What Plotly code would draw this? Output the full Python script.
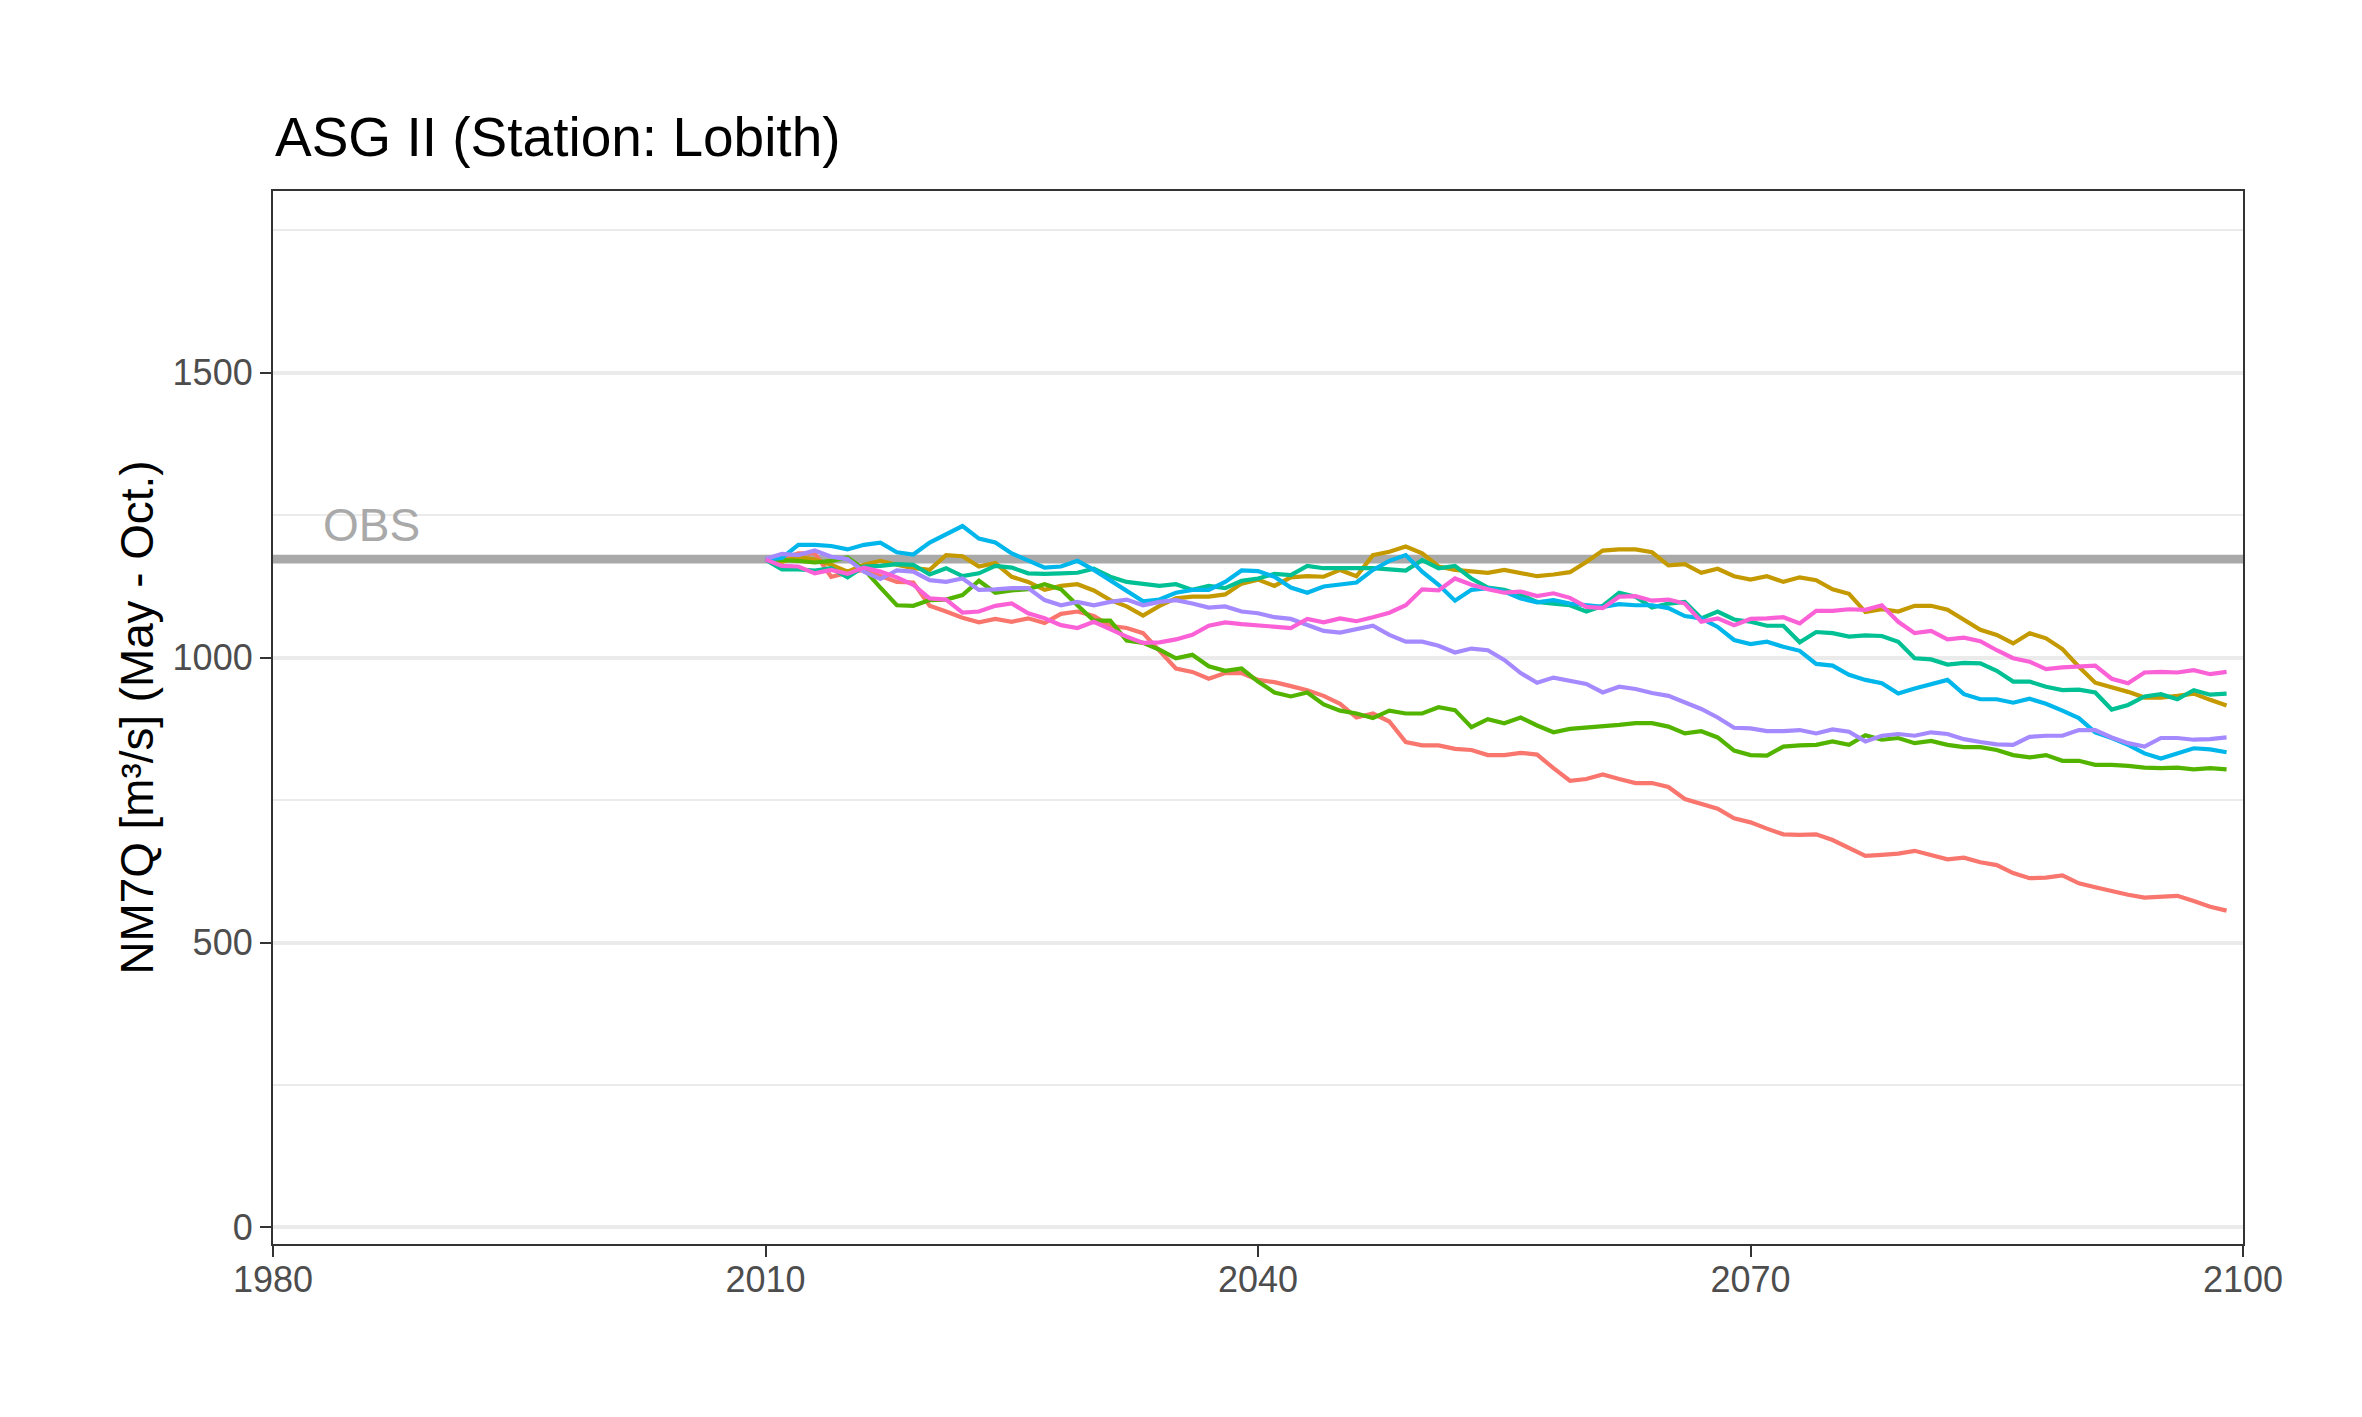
import plotly.graph_objects as go

# ---------------- data ----------------
years = list(range(2010, 2100))

obs_value = 1173

red = [1172, 1173, 1183, 1183, 1142, 1149, 1154, 1143, 1133, 1132,
       1091, 1081, 1070, 1062, 1068, 1063, 1069, 1061, 1077, 1081,
       1073, 1056, 1052, 1043, 1011, 981, 975, 963, 973, 973,
       961, 957, 950, 943, 933, 919, 895, 902, 888, 852,
       846, 846, 840, 838, 829, 829, 833, 830, 806, 784,
       787, 795, 787, 780, 780, 773, 752, 743, 735, 718,
       711, 700, 690, 689, 690, 680, 666, 652, 654, 656,
       661, 654, 646, 649, 641, 636, 622, 613, 614, 618,
       604, 597, 590, 584, 579, 581, 582, 573, 563, 556]

gold = [1172, 1168, 1177, 1172, 1163, 1151, 1163, 1170, 1163, 1157,
        1154, 1180, 1178, 1160, 1166, 1142, 1133, 1119, 1126, 1129,
        1118, 1101, 1090, 1074, 1091, 1104, 1107, 1107, 1111, 1130,
        1137, 1126, 1141, 1143, 1142, 1154, 1143, 1180, 1186, 1195,
        1183, 1160, 1154, 1151, 1149, 1154, 1149, 1143, 1146, 1150,
        1168, 1188, 1190, 1190, 1185, 1162, 1164, 1149, 1156, 1143,
        1137, 1143, 1133, 1141, 1136, 1120, 1112, 1080, 1085, 1081,
        1091, 1091, 1084, 1067, 1049, 1040, 1025, 1043, 1034, 1015,
        984, 956, 948, 940, 930, 930, 933, 937, 926, 916]

green = [1173, 1172, 1170, 1167, 1170, 1176, 1155, 1123, 1092, 1091,
         1101, 1102, 1110, 1135, 1114, 1118, 1120, 1129, 1120, 1092,
         1065, 1065, 1030, 1026, 1014, 999, 1005, 985, 977, 981,
         958, 939, 932, 939, 918, 907, 902, 894, 907, 902,
         902, 913, 908, 878, 892, 885, 895, 881, 869, 875,
         877, 880, 882, 885, 885, 879, 867, 871, 860, 837,
         829, 828, 844, 846, 847, 853, 847, 864, 856, 859,
         850, 854, 847, 843, 843, 838, 829, 825, 829, 819,
         819, 812, 812, 810, 807, 806, 807, 804, 806, 804]

teal = [1172, 1155, 1155, 1153, 1157, 1141, 1160, 1161, 1164, 1163,
        1146, 1157, 1143, 1148, 1161, 1158, 1148, 1147, 1148, 1149,
        1156, 1142, 1133, 1129, 1126, 1129, 1119, 1126, 1122, 1135,
        1139, 1147, 1145, 1161, 1157, 1157, 1157, 1157, 1155, 1153,
        1171, 1157, 1161, 1139, 1123, 1119, 1110, 1098, 1095, 1092,
        1081, 1091, 1114, 1107, 1088, 1095, 1098, 1069, 1081, 1067,
        1063, 1056, 1056, 1027, 1045, 1043, 1037, 1039, 1038, 1028,
        999, 997, 988, 991, 990, 977, 958, 958, 949, 943,
        944, 939, 909, 917, 932, 936, 927, 943, 935, 937]

cyan = [1172, 1175, 1198, 1198, 1196, 1190, 1198, 1202, 1185, 1181,
        1202, 1217, 1231, 1209, 1202, 1183, 1170, 1158, 1160, 1170,
        1154, 1136, 1116, 1099, 1102, 1114, 1119, 1119, 1133, 1153,
        1152, 1142, 1123, 1114, 1125, 1128, 1132, 1154, 1170, 1180,
        1151, 1128, 1100, 1119, 1122, 1116, 1104, 1097, 1101, 1095,
        1092, 1089, 1094, 1092, 1092, 1087, 1073, 1069, 1054, 1031,
        1024, 1028, 1019, 1012, 989, 986, 970, 961, 955, 937,
        946, 954, 961, 936, 927, 927, 921, 928, 919, 907,
        894, 869, 859, 847, 832, 823, 832, 841, 839, 834]

purple = [1173, 1182, 1180, 1188, 1177, 1173, 1151, 1138, 1153, 1151,
          1136, 1133, 1139, 1119, 1120, 1122, 1122, 1101, 1092, 1098,
          1092, 1098, 1102, 1092, 1098, 1101, 1095, 1088, 1090, 1081,
          1078, 1071, 1068, 1057, 1047, 1044, 1050, 1056, 1040, 1028,
          1028, 1021, 1009, 1016, 1013, 996, 973, 956, 965, 960,
          954, 939, 949, 945, 938, 933, 921, 910, 895, 877,
          876, 871, 871, 873, 867, 874, 870, 853, 863, 866,
          863, 869, 866, 857, 852, 848, 847, 861, 863, 863,
          873, 873, 860, 850, 844, 859, 859, 856, 857, 860]

pink = [1172, 1161, 1160, 1148, 1154, 1147, 1158, 1151, 1141, 1128,
        1104, 1102, 1079, 1081, 1091, 1095, 1078, 1069, 1057, 1052,
        1063, 1049, 1037, 1026, 1027, 1032, 1040, 1056, 1062, 1059,
        1057, 1054, 1052, 1068, 1062, 1069, 1064, 1071, 1079, 1092,
        1120, 1118, 1139, 1128, 1120, 1114, 1116, 1108, 1113, 1105,
        1089, 1087, 1107, 1108, 1100, 1102, 1095, 1063, 1069, 1057,
        1068, 1069, 1071, 1060, 1082, 1082, 1085, 1084, 1092, 1063,
        1043, 1047, 1032, 1035, 1029, 1013, 999, 993, 980, 983,
        985, 986, 963, 955, 974, 975, 974, 978, 971, 975]

series_names = ["Run 1", "Run 2", "Run 3", "Run 4", "Run 5", "Run 6", "Run 7"]
series_values = [red, gold, green, teal, cyan, purple, pink]
series_colors = ["#F8766D", "#C49A00", "#53B400", "#00C094", "#00B6EB", "#A58AFF", "#FB61D7"]

x_ticks = [1980, 2010, 2040, 2070, 2100]
y_ticks = [0, 500, 1000, 1500]
y_minor = [250, 750, 1250, 1750]
x_range = [1980, 2100]
y_range = [-29, 1819]

title_text = "ASG II (Station: Lobith)"
y_title = "NM7Q [m³/s] (May - Oct.)"
obs_label = "OBS"

# ---------------- figure ----------------
FONT = "Liberation Sans, Arial, Helvetica, sans-serif"

fig = go.Figure()

fig.add_hline(y=obs_value, line=dict(color="#A9A9A9", width=8.9), layer="below")

for name, vals, col in zip(series_names, series_values, series_colors):
    fig.add_trace(go.Scatter(x=years, y=vals, mode="lines", name=name,
                             line=dict(color=col, width=4.2), showlegend=False))

axis_common = dict(
    showline=True, mirror=True, linecolor="#333333", linewidth=2.2,
    ticks="outside", ticklen=11, tickwidth=2.2, tickcolor="#333333",
    tickfont=dict(family=FONT, size=36, color="#4D4D4D"),
    zeroline=False,
)

fig.update_layout(
    width=2362, height=1417, autosize=False,
    margin=dict(l=273, r=119, t=191, b=173, pad=0),
    paper_bgcolor="white", plot_bgcolor="white",
    showlegend=False,
    font=dict(family=FONT),
    xaxis=dict(range=x_range, tickvals=x_ticks, showgrid=False,
               ticklabelstandoff=-8, **axis_common),
    yaxis=dict(range=y_range, tickvals=y_ticks, showgrid=True, gridcolor="#EBEBEB", gridwidth=4.2,
               minor=dict(tickvals=y_minor, showgrid=True, gridcolor="#EBEBEB", gridwidth=2.1, ticks=""),
               **axis_common),
    annotations=[
        dict(text=title_text, xref="paper", yref="paper", x=0, y=1.0513,
             xanchor="left", yanchor="middle", showarrow=False,
             font=dict(family=FONT, size=55, color="black")),
        dict(text=y_title, xref="paper", yref="paper", x=0, y=0.5, xshift=-136,
             xanchor="center", yanchor="middle", textangle=-90, showarrow=False,
             font=dict(family=FONT, size=45.8, color="black")),
        dict(text=obs_label, xref="x", yref="y", x=1986, y=1232,
             xanchor="center", yanchor="middle", showarrow=False,
             font=dict(family=FONT, size=46, color="#A9A9A9")),
    ],
)

fig.write_html("out.html", config={"displayModeBar": False},
               post_script="document.body.style.margin='0px';")
